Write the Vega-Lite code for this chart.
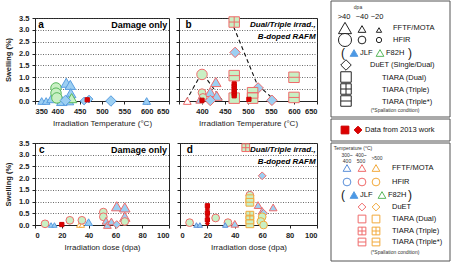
{
"$schema": "https://vega.github.io/schema/vega-lite/v6.json",
"padding": {"left": 4, "top": 0, "right": 0, "bottom": 0},
"background": "white",
"config": {
 "font": "Liberation Sans",
 "view": {"stroke": "#222", "strokeWidth": 1},
 "axis": {"labelFont": "Liberation Sans", "labelFontSize": 7.5, "labelFontWeight": "bold", "labelColor": "#222", "titleFont": "Liberation Sans", "titleFontSize": 8, "titleFontWeight": "normal", "titleColor": "#222", "domainColor": "#222", "tickColor": "#222", "tickSize": 3, "labelPadding": 3},
 "axisY": {"grid": true, "gridDash": [1, 1.5], "gridColor": "#444", "gridOpacity": 1, "gridWidth": 0.8},
 "axisX": {"grid": false}
},
"datasets": {
 "pa": [
  {"x": 365, "y": 0, "s": "FFTF", "f": "JLF", "e": "JLF", "z": "M"},
  {"x": 375, "y": 0, "s": "FFTF", "f": "JLF", "e": "JLF", "z": "M"},
  {"x": 388, "y": 0.12, "s": "FFTF", "f": "JLF", "e": "JLF", "z": "L"},
  {"x": 410, "y": 0, "s": "FFTF", "f": "JLF", "e": "JLF", "z": "L"},
  {"x": 397, "y": 0.55, "s": "HFIR", "f": "F82H", "e": "F82H", "z": "L"},
  {"x": 397, "y": 0.33, "s": "HFIR", "f": "F82H", "e": "F82H", "z": "L"},
  {"x": 399, "y": 0.13, "s": "HFIR", "f": "F82H", "e": "F82H", "z": "L"},
  {"x": 420, "y": 0.77, "s": "FFTF", "f": "JLF", "e": "JLF", "z": "L"},
  {"x": 429, "y": 0.68, "s": "FFTF", "f": "JLF", "e": "JLF", "z": "L"},
  {"x": 430, "y": 0.33, "s": "FFTF", "f": "JLF", "e": "JLF", "z": "L"},
  {"x": 425, "y": 0.03, "s": "FFTF", "f": "JLF", "e": "JLF", "z": "L"},
  {"x": 432, "y": 0.12, "s": "FFTF", "f": "F82H", "e": "F82H", "z": "L"},
  {"x": 418, "y": 0.02, "s": "DuET", "f": "JLF", "e": "JLF", "z": "L"},
  {"x": 460, "y": 0, "s": "DuET", "f": "JLF", "e": "JLF", "z": "M"},
  {"x": 471, "y": 0.08, "s": "DuET", "f": "JLF", "e": "JLF", "z": "M"},
  {"x": 520, "y": 0, "s": "DuET", "f": "JLF", "e": "JLF", "z": "L"},
  {"x": 600, "y": 0, "s": "FFTF", "f": "JLF", "e": "JLF", "z": "M"},
  {"x": 467, "y": 0.05, "s": "R13sq", "f": "red", "e": "red", "z": "R"}
 ],
 "pb": [
  {"x": 470, "y": 3.33, "s": "TIARA-T", "f": "F82H", "e": "mid", "z": "L"},
  {"x": 472, "y": 2.05, "s": "DuET", "f": "JLF", "e": "mid", "z": "L"},
  {"x": 400, "y": 1.12, "s": "HFIR", "f": "F82H", "e": "mid", "z": "L"},
  {"x": 470, "y": 1.07, "s": "TIARA-Ts", "f": "F82H", "e": "mid", "z": "L"},
  {"x": 600, "y": 1.0, "s": "TIARA-Ts", "f": "F82H", "e": "mid", "z": "L"},
  {"x": 430, "y": 0.8, "s": "FFTF", "f": "JLF", "e": "mid", "z": "L"},
  {"x": 522, "y": 0.55, "s": "DuET", "f": "JLF", "e": "mid", "z": "L"},
  {"x": 418, "y": 0.38, "s": "FFTF", "f": "JLF", "e": "mid", "z": "L"},
  {"x": 400, "y": 0.35, "s": "HFIR", "f": "F82H", "e": "mid", "z": "M"},
  {"x": 510, "y": 0.35, "s": "TIARA-Ts", "f": "F82H", "e": "mid", "z": "L"},
  {"x": 432, "y": 0.22, "s": "FFTF", "f": "JLF", "e": "mid", "z": "L"},
  {"x": 402, "y": 0.15, "s": "HFIR", "f": "F82H", "e": "mid", "z": "M"},
  {"x": 510, "y": 0.12, "s": "TIARA-Ts", "f": "F82H", "e": "mid", "z": "L"},
  {"x": 600, "y": 0.15, "s": "TIARA-Ts", "f": "F82H", "e": "mid", "z": "L"},
  {"x": 470, "y": 0.12, "s": "TIARA-D", "f": "F82H", "e": "mid", "z": "L"},
  {"x": 395, "y": 0.05, "s": "FFTF", "f": "JLF", "e": "mid", "z": "M"},
  {"x": 368, "y": 0, "s": "FFTF", "f": "none", "e": "mid", "z": "M"},
  {"x": 418, "y": 0.02, "s": "DuET", "f": "JLF", "e": "mid", "z": "L"},
  {"x": 552, "y": 0.03, "s": "DuET", "f": "JLF", "e": "mid", "z": "L"},
  {"x": 470, "y": 0.72, "s": "R13sq", "f": "red", "e": "red", "z": "R"},
  {"x": 470, "y": 0.62, "s": "R13sq", "f": "red", "e": "red", "z": "R"},
  {"x": 470, "y": 0.52, "s": "R13sq", "f": "red", "e": "red", "z": "R"},
  {"x": 470, "y": 0.42, "s": "R13sq", "f": "red", "e": "red", "z": "R"},
  {"x": 470, "y": 0.32, "s": "R13sq", "f": "red", "e": "red", "z": "R"},
  {"x": 470, "y": 0.22, "s": "R13sq", "f": "red", "e": "red", "z": "R"},
  {"x": 400, "y": 0.03, "s": "R13sq", "f": "red", "e": "red", "z": "R"},
  {"x": 502, "y": 0.07, "s": "R13sq", "f": "red", "e": "red", "z": "R"}
 ],
 "lb": [
  {"x": 365, "y": 0, "g": "A"}, {"x": 400, "y": 1.2, "g": "A"}, {"x": 445, "y": 0, "g": "A"},
  {"x": 463, "y": 3.4, "g": "B"}, {"x": 520, "y": 0.7, "g": "B"}, {"x": 560, "y": 0, "g": "B"}
 ],
 "pc": [
  {"x": 7.5, "y": 0.05, "s": "HFIR", "f": "F82H", "e": "mid", "z": "M"},
  {"x": 12, "y": 0, "s": "FFTF", "f": "JLF", "e": "JLF", "z": "S"},
  {"x": 14.5, "y": 0, "s": "FFTF", "f": "JLF", "e": "JLF", "z": "S"},
  {"x": 26, "y": 0.2, "s": "HFIR", "f": "F82H", "e": "mid", "z": "M"},
  {"x": 33, "y": 0, "s": "FFTF", "f": "none", "e": "hi", "z": "S"},
  {"x": 35, "y": 0, "s": "FFTF", "f": "none", "e": "hi", "z": "S"},
  {"x": 35, "y": 0.2, "s": "HFIR", "f": "F82H", "e": "mid", "z": "M"},
  {"x": 40, "y": 0.12, "s": "FFTF", "f": "JLF", "e": "JLF", "z": "M"},
  {"x": 51, "y": 0.55, "s": "HFIR", "f": "F82H", "e": "mid", "z": "M"},
  {"x": 51, "y": 0.35, "s": "HFIR", "f": "F82H", "e": "mid", "z": "M"},
  {"x": 53, "y": 0.18, "s": "FFTF", "f": "JLF", "e": "mid", "z": "M"},
  {"x": 54, "y": 0, "s": "FFTF", "f": "JLF", "e": "mid", "z": "M"},
  {"x": 57, "y": 0.15, "s": "FFTF", "f": "JLF", "e": "mid", "z": "M"},
  {"x": 61, "y": 0.8, "s": "FFTF", "f": "JLF", "e": "mid", "z": "L"},
  {"x": 61, "y": 0.02, "s": "DuET", "f": "JLF", "e": "mid", "z": "M"},
  {"x": 67, "y": 0.75, "s": "FFTF", "f": "JLF", "e": "mid", "z": "L"},
  {"x": 67, "y": 0.35, "s": "FFTF", "f": "JLF", "e": "mid", "z": "L"},
  {"x": 67, "y": 0.15, "s": "HFIR", "f": "F82H", "e": "mid", "z": "M"},
  {"x": 20, "y": 0.02, "s": "R13sq", "f": "red", "e": "red", "z": "R"}
 ],
 "pd": [
  {"x": 48, "y": 3.3, "s": "TIARA-T", "f": "F82H", "e": "mid", "z": "M"},
  {"x": 60, "y": 2.1, "s": "DuET", "f": "JLF", "e": "mid", "z": "M"},
  {"x": 51, "y": 1.27, "s": "HFIR", "f": "F82H", "e": "mid", "z": "M"},
  {"x": 51, "y": 1.12, "s": "TIARA-D", "f": "F82H", "e": "hi", "z": "M"},
  {"x": 51, "y": 0.97, "s": "TIARA-Ts", "f": "F82H", "e": "hi", "z": "M"},
  {"x": 57, "y": 0.85, "s": "FFTF", "f": "JLF", "e": "mid", "z": "M"},
  {"x": 68, "y": 0.75, "s": "FFTF", "f": "JLF", "e": "mid", "z": "M"},
  {"x": 60, "y": 0.6, "s": "FFTF", "f": "JLF", "e": "mid", "z": "M"},
  {"x": 61, "y": 0.5, "s": "DuET", "f": "JLF", "e": "mid", "z": "M"},
  {"x": 60, "y": 0.35, "s": "HFIR", "f": "F82H", "e": "hi", "z": "M"},
  {"x": 59, "y": 0.15, "s": "HFIR", "f": "F82H", "e": "hi", "z": "M"},
  {"x": 61, "y": 0.0, "s": "HFIR", "f": "F82H", "e": "hi", "z": "M"},
  {"x": 51, "y": 0.42, "s": "TIARA-T", "f": "F82H", "e": "hi", "z": "M"},
  {"x": 51, "y": 0.22, "s": "TIARA-T", "f": "F82H", "e": "hi", "z": "M"},
  {"x": 51, "y": 0.05, "s": "TIARA-Ts", "f": "F82H", "e": "hi", "z": "M"},
  {"x": 26, "y": 0.3, "s": "HFIR", "f": "F82H", "e": "mid", "z": "M"},
  {"x": 7, "y": 0.1, "s": "HFIR", "f": "F82H", "e": "mid", "z": "M"},
  {"x": 12, "y": 0, "s": "FFTF", "f": "JLF", "e": "lo", "z": "S"},
  {"x": 14.5, "y": 0, "s": "FFTF", "f": "JLF", "e": "lo", "z": "S"},
  {"x": 35, "y": 0.1, "s": "HFIR", "f": "F82H", "e": "mid", "z": "M"},
  {"x": 33, "y": 0, "s": "FFTF", "f": "JLF", "e": "lo", "z": "S"},
  {"x": 40, "y": 0.05, "s": "FFTF", "f": "JLF", "e": "mid", "z": "M"},
  {"x": 20, "y": 0.82, "s": "R13sq", "f": "red", "e": "red", "z": "R"},
  {"x": 20, "y": 0.68, "s": "R13di", "f": "red", "e": "red", "z": "R"},
  {"x": 20, "y": 0.52, "s": "R13sq", "f": "red", "e": "red", "z": "R"},
  {"x": 20, "y": 0.38, "s": "R13di", "f": "red", "e": "red", "z": "R"},
  {"x": 20, "y": 0.22, "s": "R13sq", "f": "red", "e": "red", "z": "R"},
  {"x": 20, "y": 0.06, "s": "R13di", "f": "red", "e": "red", "z": "R"}
 ],
 "legpts": [
  {"lx": 14, "ly": 28, "s": "FFTF", "f": "none", "e": "blk", "z": "LL"},
  {"lx": 31, "ly": 29, "s": "FFTF", "f": "none", "e": "blk", "z": "M"},
  {"lx": 48, "ly": 30, "s": "FFTF", "f": "none", "e": "blk", "z": "S"},
  {"lx": 14, "ly": 40, "s": "HFIR", "f": "none", "e": "blk", "z": "LL"},
  {"lx": 31, "ly": 40, "s": "HFIR", "f": "none", "e": "blk", "z": "M"},
  {"lx": 48, "ly": 40, "s": "HFIR", "f": "none", "e": "blk", "z": "S"},
  {"lx": 23, "ly": 53, "s": "FFTF", "f": "JLFs", "e": "JLF", "z": "M"},
  {"lx": 49, "ly": 53, "s": "FFTF", "f": "none", "e": "F82H", "z": "M"},
  {"lx": 15, "ly": 65, "s": "DuET", "f": "none", "e": "blk", "z": "L"},
  {"lx": 15, "ly": 77, "s": "TIARA-D", "f": "none", "e": "blk", "z": "L"},
  {"lx": 15, "ly": 89, "s": "TIARA-T", "f": "none", "e": "blk", "z": "L"},
  {"lx": 15, "ly": 101, "s": "TIARA-Ts", "f": "none", "e": "blk", "z": "L"},
  {"lx": 14, "ly": 130, "s": "R13sq", "f": "red", "e": "red", "z": "M"},
  {"lx": 27, "ly": 130, "s": "R13di", "f": "red", "e": "red", "z": "M"},
  {"lx": 16, "ly": 168, "s": "FFTF", "f": "none", "e": "lo", "z": "M"},
  {"lx": 31, "ly": 168, "s": "FFTF", "f": "none", "e": "mid", "z": "M"},
  {"lx": 45, "ly": 168, "s": "FFTF", "f": "none", "e": "hi", "z": "M"},
  {"lx": 16, "ly": 182, "s": "HFIR", "f": "none", "e": "lo", "z": "M"},
  {"lx": 31, "ly": 182, "s": "HFIR", "f": "none", "e": "mid", "z": "M"},
  {"lx": 45, "ly": 182, "s": "HFIR", "f": "none", "e": "hi", "z": "M"},
  {"lx": 23, "ly": 195, "s": "FFTF", "f": "JLFs", "e": "JLF", "z": "M"},
  {"lx": 51, "ly": 195, "s": "FFTF", "f": "none", "e": "F82H", "z": "M"},
  {"lx": 31, "ly": 207, "s": "DuET", "f": "none", "e": "mid", "z": "M"},
  {"lx": 45, "ly": 207, "s": "DuET", "f": "none", "e": "hi", "z": "M"},
  {"lx": 31, "ly": 219, "s": "TIARA-D", "f": "none", "e": "mid", "z": "M"},
  {"lx": 45, "ly": 219, "s": "TIARA-D", "f": "none", "e": "hi", "z": "M"},
  {"lx": 31, "ly": 231, "s": "TIARA-T", "f": "none", "e": "mid", "z": "M"},
  {"lx": 45, "ly": 231, "s": "TIARA-T", "f": "none", "e": "hi", "z": "M"},
  {"lx": 31, "ly": 242, "s": "TIARA-Ts", "f": "none", "e": "mid", "z": "M"},
  {"lx": 45, "ly": 242, "s": "TIARA-Ts", "f": "none", "e": "hi", "z": "M"}
 ],
 "legtxt": [
  {"lx": 62, "ly": 28, "t": "FFTF/MOTA"},
  {"lx": 62, "ly": 40, "t": "HFIR"},
  {"lx": 29, "ly": 53, "t": "JLF"},
  {"lx": 55, "ly": 53, "t": "F82H"},
  {"lx": 39, "ly": 65, "t": "DuET (Single/Dual)"},
  {"lx": 51, "ly": 78, "t": "TIARA (Dual)"},
  {"lx": 51, "ly": 90, "t": "TIARA (Triple)"},
  {"lx": 51, "ly": 102, "t": "TIARA (Triple*)"},
  {"lx": 34, "ly": 130, "t": "Data from 2013 work"},
  {"lx": 61, "ly": 168, "t": "FFTF/MOTA"},
  {"lx": 61, "ly": 182, "t": "HFIR"},
  {"lx": 29, "ly": 195, "t": "JLF"},
  {"lx": 57, "ly": 195, "t": "F82H"},
  {"lx": 61, "ly": 207, "t": "DuET"},
  {"lx": 61, "ly": 219, "t": "TIARA (Dual)"},
  {"lx": 61, "ly": 231, "t": "TIARA (Triple)"},
  {"lx": 61, "ly": 242, "t": "TIARA (Triple*)"}
 ],
 "legtiny": [
  {"lx": 27, "ly": 7, "t": "dpa"},
  {"lx": 64, "ly": 110, "t": "(*Spallation condition)"},
  {"lx": 64, "ly": 252, "t": "(*Spallation condition)"},
  {"lx": 22, "ly": 148, "t": "Temperature (°C)"},
  {"lx": 16, "ly": 155, "t": "300~"},
  {"lx": 16, "ly": 161, "t": "400"},
  {"lx": 30, "ly": 155, "t": "400~"},
  {"lx": 30, "ly": 161, "t": "500"},
  {"lx": 46, "ly": 158, "t": ">500"}
 ],
 "leghead": [
  {"lx": 13, "ly": 17, "t": ">40"},
  {"lx": 31, "ly": 17, "t": "~40"},
  {"lx": 46, "ly": 17, "t": "~20"}
 ],
 "legpar": [
  {"lx": 12, "ly": 53, "t": "("},
  {"lx": 79, "ly": 53, "t": ")"},
  {"lx": 12, "ly": 195, "t": "("},
  {"lx": 79, "ly": 195, "t": ")"}
 ],
 "legbox": [
  {"lx": 0, "lx2": 119, "ly": 1, "ly2": 117},
  {"lx": 0, "lx2": 119, "ly": 119, "ly2": 141},
  {"lx": 0, "lx2": 119, "ly": 143, "ly2": 261}
 ]
},
"hconcat": [
 {
  "spacing": 10,
  "vconcat": [
   {
    "bounds": "flush",
    "spacing": 10,
    "hconcat": [
     {
      "width": 134, "height": 83,
      "encoding": {
       "x": {"field": "x", "type": "quantitative", "scale": {"domain": [350, 650], "nice": false, "zero": false}, "axis": {"values": [350, 400, 450, 500, 550, 600, 650], "title": "Irradiation Temperature (°C)", "titlePadding": 5}},
       "y": {"field": "y", "type": "quantitative", "scale": {"domain": [0, 3.5], "nice": false}, "axis": {"values": [0, 0.5, 1, 1.5, 2, 2.5, 3, 3.5], "format": ".1f", "title": "Swelling (%)", "titleFontWeight": "bold", "titleFontSize": 7.5, "titlePadding": 6}}
      },
      "layer": [
       {"data": {"name": "pa"}, "mark": {"type": "point", "filled": true, "opacity": 1, "strokeWidth": 1, "size": {"expr": "datum.z=='LL'?170:datum.z=='L'?110:datum.z=='M'?60:datum.z=='S'?28:18"}},
        "encoding": {
         "shape": {"field": "s", "type": "nominal", "legend": null, "scale": {"domain": ["FFTF", "HFIR", "DuET", "TIARA-D", "TIARA-T", "TIARA-Ts", "R13sq", "R13di"], "range": ["triangle-up", "circle", "diamond", "square", "M-1,-1H1V1H-1ZM0,-1V1M-1,0H1", "M-1,-1H1V1H-1ZM-1,0H1", "square", "diamond"]}},
         "fill": {"field": "f", "type": "nominal", "legend": null, "scale": {"domain": ["JLF", "F82H", "none", "red", "JLFs"], "range": ["#9ccff2", "#c9f0c4", "#ffffff", "#dd0000", "#4a98e6"]}},
         "stroke": {"field": "e", "type": "nominal", "legend": null, "scale": {"domain": ["JLF", "F82H", "lo", "mid", "hi", "blk", "red"], "range": ["#5a9ee0", "#58b85c", "#5b8fd9", "#ef6b6b", "#f2a93b", "#222222", "#cc0000"]}}
        }},
       {"data": {"values": [{"x": 357, "y": 3.22, "t": "a"}]}, "mark": {"type": "text", "align": "left", "baseline": "middle", "fontWeight": "bold", "fontSize": 10}, "encoding": {"text": {"field": "t"}}},
       {"data": {"values": [{"x": 646, "y": 3.22, "t": "Damage only"}]}, "mark": {"type": "text", "align": "right", "baseline": "middle", "fontWeight": "bold", "fontSize": 9}, "encoding": {"text": {"field": "t"}}}
      ]
     },
     {
      "width": 138, "height": 83,
      "encoding": {
       "x": {"field": "x", "type": "quantitative", "scale": {"domain": [350, 650], "nice": false, "zero": false}, "axis": {"values": [350, 400, 450, 500, 550, 600, 650], "labelExpr": "datum.value == 350 ? '' : datum.label", "title": "Irradiation Temperature (°C)", "titlePadding": 5}},
       "y": {"field": "y", "type": "quantitative", "scale": {"domain": [0, 3.5], "nice": false}, "axis": {"values": [0, 0.5, 1, 1.5, 2, 2.5, 3, 3.5], "labels": false, "title": null}}
      },
      "layer": [
       {"data": {"name": "lb"}, "mark": {"type": "line", "strokeDash": [4, 3], "color": "#111", "strokeWidth": 1.1}, "encoding": {"detail": {"field": "g"}}},
       {"data": {"name": "pb"}, "mark": {"type": "point", "filled": true, "opacity": 1, "strokeWidth": 1, "size": {"expr": "datum.z=='LL'?170:datum.z=='L'?110:datum.z=='M'?60:datum.z=='S'?28:18"}},
        "encoding": {
         "shape": {"field": "s", "type": "nominal", "legend": null, "scale": {"domain": ["FFTF", "HFIR", "DuET", "TIARA-D", "TIARA-T", "TIARA-Ts", "R13sq", "R13di"], "range": ["triangle-up", "circle", "diamond", "square", "M-1,-1H1V1H-1ZM0,-1V1M-1,0H1", "M-1,-1H1V1H-1ZM-1,0H1", "square", "diamond"]}},
         "fill": {"field": "f", "type": "nominal", "legend": null, "scale": {"domain": ["JLF", "F82H", "none", "red", "JLFs"], "range": ["#9ccff2", "#c9f0c4", "#ffffff", "#dd0000", "#4a98e6"]}},
         "stroke": {"field": "e", "type": "nominal", "legend": null, "scale": {"domain": ["JLF", "F82H", "lo", "mid", "hi", "blk", "red"], "range": ["#5a9ee0", "#58b85c", "#5b8fd9", "#ef6b6b", "#f2a93b", "#222222", "#cc0000"]}}
        }},
       {"data": {"values": [{"x": 364, "y": 3.22, "t": "b"}]}, "mark": {"type": "text", "align": "left", "baseline": "middle", "fontWeight": "bold", "fontSize": 10}, "encoding": {"text": {"field": "t"}}},
       {"data": {"values": [{"x": 647, "y": 3.22, "t": "Dual/Triple irrad.,"}, {"x": 647, "y": 2.68, "t": "B-doped RAFM"}]}, "mark": {"type": "text", "align": "right", "baseline": "middle", "fontWeight": "bold", "fontStyle": "italic", "fontSize": 8}, "encoding": {"text": {"field": "t"}}}
      ]
     }
    ]
   },
   {
    "bounds": "flush",
    "spacing": 11,
    "hconcat": [
     {
      "width": 134, "height": 82,
      "encoding": {
       "x": {"field": "x", "type": "quantitative", "scale": {"domain": [0, 100], "nice": false, "zero": false}, "axis": {"values": [0, 20, 40, 60, 80, 100], "title": "Irradiation dose (dpa)", "titlePadding": 5}},
       "y": {"field": "y", "type": "quantitative", "scale": {"domain": [0, 3.5], "nice": false}, "axis": {"values": [0, 0.5, 1, 1.5, 2, 2.5, 3, 3.5], "format": ".1f", "title": "Swelling (%)", "titleFontWeight": "bold", "titleFontSize": 7.5, "titlePadding": 6}}
      },
      "layer": [
       {"data": {"name": "pc"}, "mark": {"type": "point", "filled": true, "opacity": 1, "strokeWidth": 1, "size": {"expr": "datum.z=='LL'?170:datum.z=='L'?110:datum.z=='M'?60:datum.z=='S'?28:18"}},
        "encoding": {
         "shape": {"field": "s", "type": "nominal", "legend": null, "scale": {"domain": ["FFTF", "HFIR", "DuET", "TIARA-D", "TIARA-T", "TIARA-Ts", "R13sq", "R13di"], "range": ["triangle-up", "circle", "diamond", "square", "M-1,-1H1V1H-1ZM0,-1V1M-1,0H1", "M-1,-1H1V1H-1ZM-1,0H1", "square", "diamond"]}},
         "fill": {"field": "f", "type": "nominal", "legend": null, "scale": {"domain": ["JLF", "F82H", "none", "red", "JLFs"], "range": ["#9ccff2", "#c9f0c4", "#ffffff", "#dd0000", "#4a98e6"]}},
         "stroke": {"field": "e", "type": "nominal", "legend": null, "scale": {"domain": ["JLF", "F82H", "lo", "mid", "hi", "blk", "red"], "range": ["#5a9ee0", "#58b85c", "#5b8fd9", "#ef6b6b", "#f2a93b", "#222222", "#cc0000"]}}
        }},
       {"data": {"values": [{"x": 3, "y": 3.22, "t": "c"}]}, "mark": {"type": "text", "align": "left", "baseline": "middle", "fontWeight": "bold", "fontSize": 10}, "encoding": {"text": {"field": "t"}}},
       {"data": {"values": [{"x": 98.5, "y": 3.22, "t": "Damage only"}]}, "mark": {"type": "text", "align": "right", "baseline": "middle", "fontWeight": "bold", "fontSize": 9}, "encoding": {"text": {"field": "t"}}}
      ]
     },
     {
      "width": 137, "height": 82,
      "encoding": {
       "x": {"field": "x", "type": "quantitative", "scale": {"domain": [0, 100], "nice": false, "zero": false}, "axis": {"values": [0, 20, 40, 60, 80, 100], "title": "Irradiation dose (dpa)", "titlePadding": 5}},
       "y": {"field": "y", "type": "quantitative", "scale": {"domain": [0, 3.5], "nice": false}, "axis": {"values": [0, 0.5, 1, 1.5, 2, 2.5, 3, 3.5], "labels": false, "title": null}}
      },
      "layer": [
       {"data": {"name": "pd"}, "mark": {"type": "point", "filled": true, "opacity": 1, "strokeWidth": 1, "size": {"expr": "datum.z=='LL'?170:datum.z=='L'?110:datum.z=='M'?60:datum.z=='S'?28:18"}},
        "encoding": {
         "shape": {"field": "s", "type": "nominal", "legend": null, "scale": {"domain": ["FFTF", "HFIR", "DuET", "TIARA-D", "TIARA-T", "TIARA-Ts", "R13sq", "R13di"], "range": ["triangle-up", "circle", "diamond", "square", "M-1,-1H1V1H-1ZM0,-1V1M-1,0H1", "M-1,-1H1V1H-1ZM-1,0H1", "square", "diamond"]}},
         "fill": {"field": "f", "type": "nominal", "legend": null, "scale": {"domain": ["JLF", "F82H", "none", "red", "JLFs"], "range": ["#9ccff2", "#c9f0c4", "#ffffff", "#dd0000", "#4a98e6"]}},
         "stroke": {"field": "e", "type": "nominal", "legend": null, "scale": {"domain": ["JLF", "F82H", "lo", "mid", "hi", "blk", "red"], "range": ["#5a9ee0", "#58b85c", "#5b8fd9", "#ef6b6b", "#f2a93b", "#222222", "#cc0000"]}}
        }},
       {"data": {"values": [{"x": 5, "y": 3.22, "t": "d"}]}, "mark": {"type": "text", "align": "left", "baseline": "middle", "fontWeight": "bold", "fontSize": 10}, "encoding": {"text": {"field": "t"}}},
       {"data": {"values": [{"x": 99, "y": 3.22, "t": "Dual/Triple irrad.,"}, {"x": 99, "y": 2.7, "t": "B-doped RAFM"}]}, "mark": {"type": "text", "align": "right", "baseline": "middle", "fontWeight": "bold", "fontStyle": "italic", "fontSize": 8}, "encoding": {"text": {"field": "t"}}}
      ]
     }
    ]
   }
  ]
 },
 {
  "width": 119, "height": 245,
  "view": {"stroke": null},
  "encoding": {
   "x": {"field": "lx", "type": "quantitative", "scale": {"domain": [0, 119], "nice": false, "zero": false}, "axis": null},
   "y": {"field": "ly", "type": "quantitative", "scale": {"domain": [18, 263], "nice": false, "zero": false, "reverse": true}, "axis": null}
  },
  "layer": [
   {"data": {"name": "legbox"}, "mark": {"type": "rect", "fill": "white", "fillOpacity": 0, "stroke": "#555", "strokeWidth": 1}, "encoding": {"x2": {"field": "lx2"}, "y2": {"field": "ly2"}}},
   {"data": {"name": "legpts"}, "mark": {"type": "point", "filled": true, "opacity": 1, "strokeWidth": 1, "size": {"expr": "datum.z=='LL'?170:datum.z=='L'?110:datum.z=='M'?60:datum.z=='S'?28:18"}},
    "encoding": {
     "shape": {"field": "s", "type": "nominal", "legend": null, "scale": {"domain": ["FFTF", "HFIR", "DuET", "TIARA-D", "TIARA-T", "TIARA-Ts", "R13sq", "R13di"], "range": ["triangle-up", "circle", "diamond", "square", "M-1,-1H1V1H-1ZM0,-1V1M-1,0H1", "M-1,-1H1V1H-1ZM-1,0H1", "square", "diamond"]}},
     "fill": {"field": "f", "type": "nominal", "legend": null, "scale": {"domain": ["JLF", "F82H", "none", "red", "JLFs"], "range": ["#9ccff2", "#c9f0c4", "#ffffff", "#dd0000", "#4a98e6"]}},
     "stroke": {"field": "e", "type": "nominal", "legend": null, "scale": {"domain": ["JLF", "F82H", "lo", "mid", "hi", "blk", "red"], "range": ["#5a9ee0", "#58b85c", "#5b8fd9", "#ef6b6b", "#f2a93b", "#222222", "#cc0000"]}}
    }},
   {"data": {"name": "legtxt"}, "mark": {"type": "text", "align": "left", "baseline": "middle", "fontSize": 7.5, "color": "#111"}, "encoding": {"text": {"field": "t"}}},
   {"data": {"name": "legtiny"}, "mark": {"type": "text", "align": "center", "baseline": "middle", "fontSize": 5, "color": "#333"}, "encoding": {"text": {"field": "t"}}},
   {"data": {"name": "leghead"}, "mark": {"type": "text", "align": "center", "baseline": "middle", "fontSize": 7.5, "color": "#111"}, "encoding": {"text": {"field": "t"}}},
   {"data": {"name": "legpar"}, "mark": {"type": "text", "align": "center", "baseline": "middle", "fontSize": 12, "color": "#111"}, "encoding": {"text": {"field": "t"}}}
  ]
 }
],
"spacing": 12
}
